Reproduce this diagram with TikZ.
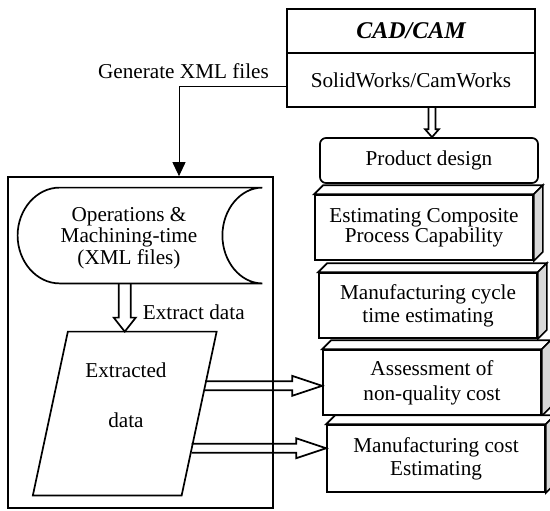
\documentclass[tikz,border=0pt]{standalone}
\usepackage{fontspec}
\setmainfont{Liberation Serif}
\usetikzlibrary{shapes.geometric, arrows.meta, positioning, calc}
\tikzset{
    boxline/.style={draw=black, line width=0.85pt},
    titlebox/.style={rectangle, boxline, minimum width=124pt, minimum height=22pt, font=\fontsize{12}{14}\selectfont\bfseries\itshape},
    toolbox/.style={rectangle, boxline, minimum width=124pt, minimum height=27pt, font=\fontsize{10.6}{12}\selectfont},
    designbox/.style={rectangle, rounded corners=3pt, boxline, minimum width=109pt, minimum height=22.5pt, font=\fontsize{10.6}{12}\selectfont},
    slab/.style={rectangle, boxline, fill=white, minimum width=109pt, minimum height=32.5pt, align=center, font=\fontsize{10.6}{11.5}\selectfont},
    storebox/.style={rectangle, minimum width=122pt, minimum height=47.5pt},
    databox/.style={rectangle, minimum width=74pt, minimum height=81.5pt},
    framebox/.style={rectangle, boxline, minimum width=132.5pt, minimum height=165.5pt},
    txt/.style={align=center, font=\fontsize{10.6}{11.5}\selectfont},
    thinarrow/.style={draw=black, line width=0.5pt, -{Triangle[length=7pt, width=6.5pt]}},
    blockarrow/.style={draw=black, line width=0.85pt, line join=miter}
}
% block arrows: half shaft, half head, head length, from, to
\newcommand{\downblock}[5]{%
  \draw[blockarrow] ([xshift=-#1]#4) -- ([xshift=-#1, yshift=#3]#5) -- ([xshift=-#2, yshift=#3]#5) -- (#5)
    -- ([xshift=#2, yshift=#3]#5) -- ([xshift=#1, yshift=#3]#5) -- ([xshift=#1]#4);}
\newcommand{\rightblock}[5]{%
  \draw[blockarrow] ([yshift=#1]#4) -- ([yshift=#1, xshift=-#3]#5) -- ([yshift=#2, xshift=-#3]#5) -- (#5)
    -- ([yshift=-#2, xshift=-#3]#5) -- ([yshift=-#1, xshift=-#3]#5) -- ([yshift=-#1]#4);}
\begin{document}
\begin{tikzpicture}[x=0.5pt, y=-0.5pt]
  \useasboundingbox (0,0) rectangle (550,510);
  % CAD/CAM and the steps
  \node[titlebox] (cad) at (411,31) {CAD/CAM};
  \node[toolbox] (tools) at (411,80) {SolidWorks/CamWorks};
  \node[designbox] (design) at (429,160.5) {Product design};
  \node[slab, font=\fontsize{10.6}{10}\selectfont] (capab) at (424,227.5) {Estimating Composite\\Process Capability};
  \node[slab] (cycle) at (428,305.5) {Manufacturing cycle\\time estimating};
  \node[slab, font=\fontsize{10.6}{12.5}\selectfont] (quality) at (432,382.5) {Assessment of\\non-quality cost};
  \node[slab, minimum height=33.5pt] (cost) at (436,458.5) {Manufacturing cost\\Estimating};
  \foreach \b in {capab,cycle,quality,cost}{
    \draw[boxline, fill=white] (\b.north west) -- ++(4.5pt,4.5pt) -- ([shift={(4.5pt,4.5pt)}]\b.north east) -- (\b.north east) -- cycle;
    \draw[boxline, fill=gray!30] (\b.north east) -- ++(4.5pt,4.5pt) -- ([shift={(4.5pt,4.5pt)}]\b.south east) -- (\b.south east) -- cycle;
  }
  % left part
  \node[framebox] (frame) at (140.5,342.5) {};
  \node[storebox] (xml) at (140,235.5) {};
  \draw[boxline] ([xshift=21pt]xml.north west) -- (xml.north east)
     .. controls +(-11pt,0) and +(0,13pt) .. ([xshift=-20pt]xml.east)
     .. controls +(0,-13pt) and +(-11pt,0) .. (xml.south east)
     -- ([xshift=21pt]xml.south west)
     .. controls +(-11.6pt,0) and +(0,-13pt) .. (xml.west)
     .. controls +(0,13pt) and +(-11.6pt,0) .. ([xshift=21pt]xml.north west) -- cycle;
  \node[txt, font=\fontsize{10.6}{9.2}\selectfont] (xmltxt) at ([xshift=-5.5pt, yshift=-1.25pt]xml.center) {Operations \&\\Machining-time\\(XML files)};
  \node[databox] (extr) at (124.75,413.5) {};
  \coordinate (extrtl) at ([xshift=8.75pt]extr.north west);
  \coordinate (extrtr) at ([xshift=8.75pt]extr.north east);
  \coordinate (extrbr) at ([xshift=-8.75pt]extr.south east);
  \coordinate (extrbl) at ([xshift=-8.75pt]extr.south west);
  \draw[boxline] (extrtl) -- (extrtr) -- (extrbr) -- (extrbl) -- cycle;
  \node[txt] (extrtxt) at ([xshift=0.6pt, yshift=9.25pt]extr.center) {Extracted\\[13.5pt]data};
  % arrows
  \coordinate (cadout) at ([xshift=10.5pt]tools.south);
  \coordinate (designin) at (cadout |- design.north);
  \downblock{1.75pt}{3.5pt}{4pt}{cadout}{designin}
  \coordinate (xmlout) at (extr.north |- xml.south);
  \coordinate (xmlmid) at ($(xmlout)!0.5!(extr.north)$);
  \downblock{3pt}{5.5pt}{7pt}{xmlout}{extr.north}
  \node[txt, right=5.5pt of xmlmid, yshift=-2.25pt] (extractlbl) {Extract data};
  \coordinate (fromextr1) at ($(extrtr)!0.331!(extrbr)$);
  \coordinate (fromextr2) at ($(extrtr)!0.712!(extrbr)$);
  \coordinate (toquality) at (fromextr1 -| quality.west);
  \rightblock{2.25pt}{5pt}{15pt}{fromextr1}{toquality}
  \coordinate (tocost) at (fromextr2 -| cost.west);
  \rightblock{2.25pt}{5pt}{15pt}{fromextr2}{tocost}
  \draw[thinarrow] ([yshift=-3pt]tools.west) -| node[pos=0.5, above, xshift=2.25pt, txt] (genlbl) {Generate XML files} ([xshift=19.25pt]frame.north);
\end{tikzpicture}
\end{document}
